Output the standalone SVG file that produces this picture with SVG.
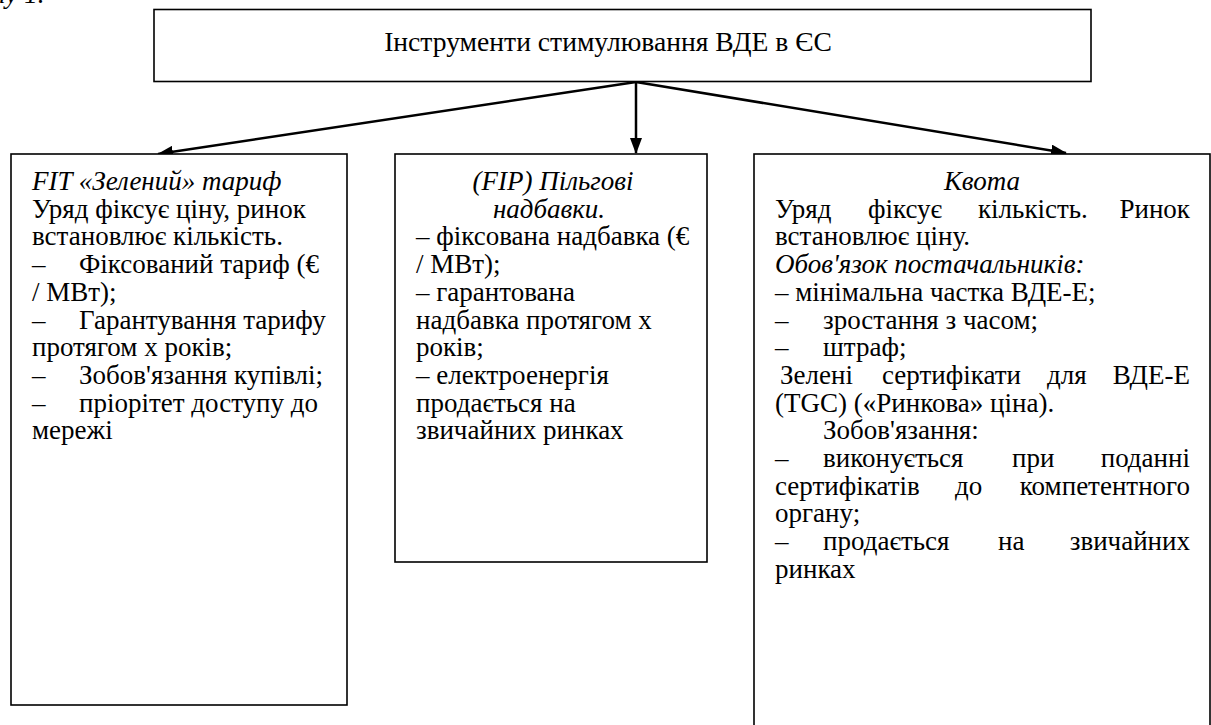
<svg xmlns="http://www.w3.org/2000/svg" width="1211" height="725" viewBox="0 0 1211 725" font-family="Liberation Serif, Times New Roman, serif">
<defs>
<style>
.box{fill:#fff;stroke:#000;stroke-width:1.6}
text{font-size:27px;fill:#000}
.i{font-style:italic}
.c{text-anchor:middle}
.e{text-anchor:end}
.conn{stroke:#000;stroke-width:2.5;fill:none}
</style>
<marker id="ah" viewBox="0 0 16 12" refX="15" refY="6" markerWidth="16" markerHeight="12" markerUnits="userSpaceOnUse" orient="auto">
<path d="M0,0 L16,6 L0,12 Z" fill="#000"/>
</marker>
</defs>
<rect width="1211" height="725" fill="#fff"/>
<text class="i" x="-8" y="3">ну 1.</text>

<g id="connectors">
<line class="conn" x1="636" y1="82" x2="158" y2="154" marker-end="url(#ah)"/>
<line class="conn" x1="636" y1="82" x2="636" y2="153" marker-end="url(#ah)"/>
<line class="conn" x1="636" y1="82" x2="1066" y2="153" marker-end="url(#ah)"/>
</g>

<g id="top">
<rect class="box" x="154" y="9.5" width="937" height="72"/>
<text class="c" x="608" y="51" style="font-size:27.6px">Інструменти стимулювання ВДЕ в ЄС</text>
</g>

<g id="fit">
<rect class="box" x="11" y="154" width="336" height="551"/>
<text class="i" x="32" y="190">FIT «Зелений» тариф</text>
<text x="32" y="217.7">Уряд фіксує ціну, ринок</text>
<text x="32" y="245.4">встановлює кількість.</text>
<text x="32" y="273.1">–</text><text x="79" y="273.1">Фіксований тариф (€</text>
<text x="32" y="300.8">/ МВт);</text>
<text x="32" y="328.5">–</text><text x="79" y="328.5">Гарантування тарифу</text>
<text x="32" y="356.2">протягом х років;</text>
<text x="32" y="383.9">–</text><text x="79" y="383.9">Зобов'язання купівлі;</text>
<text x="32" y="411.6">–</text><text x="79" y="411.6">пріорітет доступу до</text>
<text x="32" y="439.3">мережі</text>
</g>

<g id="fip">
<rect class="box" x="395" y="154" width="312" height="408"/>
<text class="i c" x="553" y="190">(FIP) Пільгові</text>
<text class="i c" x="549" y="217.7">надбавки.</text>
<text x="416" y="245.4">– фіксована надбавка (€</text>
<text x="416" y="273.1">/ МВт);</text>
<text x="416" y="300.8">– гарантована</text>
<text x="416" y="328.5">надбавка протягом х</text>
<text x="416" y="356.2">років;</text>
<text x="416" y="383.9">– електроенергія</text>
<text x="416" y="411.6">продається на</text>
<text x="416" y="439.3">звичайних ринках</text>
</g>

<g id="quota">
<rect class="box" x="754" y="154" width="456" height="580"/>
<text class="i c" x="982" y="190">Квота</text>
<text y="217.7"><tspan x="775">Уряд</tspan><tspan x="868">фіксує</tspan><tspan x="978">кількість.</tspan></text>
<text class="e" x="1190" y="217.7">Ринок</text>
<text x="775" y="245.4">встановлює ціну.</text>
<text class="i" x="775" y="273.1">Обов'язок постачальників:</text>
<text x="775" y="300.8">– мінімальна частка ВДЕ-Е;</text>
<text x="775" y="328.5">–</text><text x="823" y="328.5">зростання з часом;</text>
<text x="775" y="356.2">–</text><text x="823" y="356.2">штраф;</text>
<text y="383.9"><tspan x="780">Зелені</tspan><tspan x="882">сертифікати</tspan><tspan x="1047">для</tspan></text>
<text class="e" x="1190" y="383.9">ВДЕ-Е</text>
<text x="775" y="411.6">(TGC) («Ринкова» ціна).</text>
<text x="823" y="439.3">Зобов'язання:</text>
<text y="467"><tspan x="775">–</tspan><tspan x="823">виконується</tspan><tspan x="1012">при</tspan></text>
<text class="e" x="1190" y="467">поданні</text>
<text y="494.7"><tspan x="775">сертифікатів</tspan><tspan x="955">до</tspan></text>
<text class="e" x="1190" y="494.7">компетентного</text>
<text x="775" y="522.4">органу;</text>
<text y="550.1"><tspan x="775">–</tspan><tspan x="823">продається</tspan><tspan x="998">на</tspan></text>
<text class="e" x="1190" y="550.1">звичайних</text>
<text x="775" y="577.8">ринках</text>
</g>
</svg>
